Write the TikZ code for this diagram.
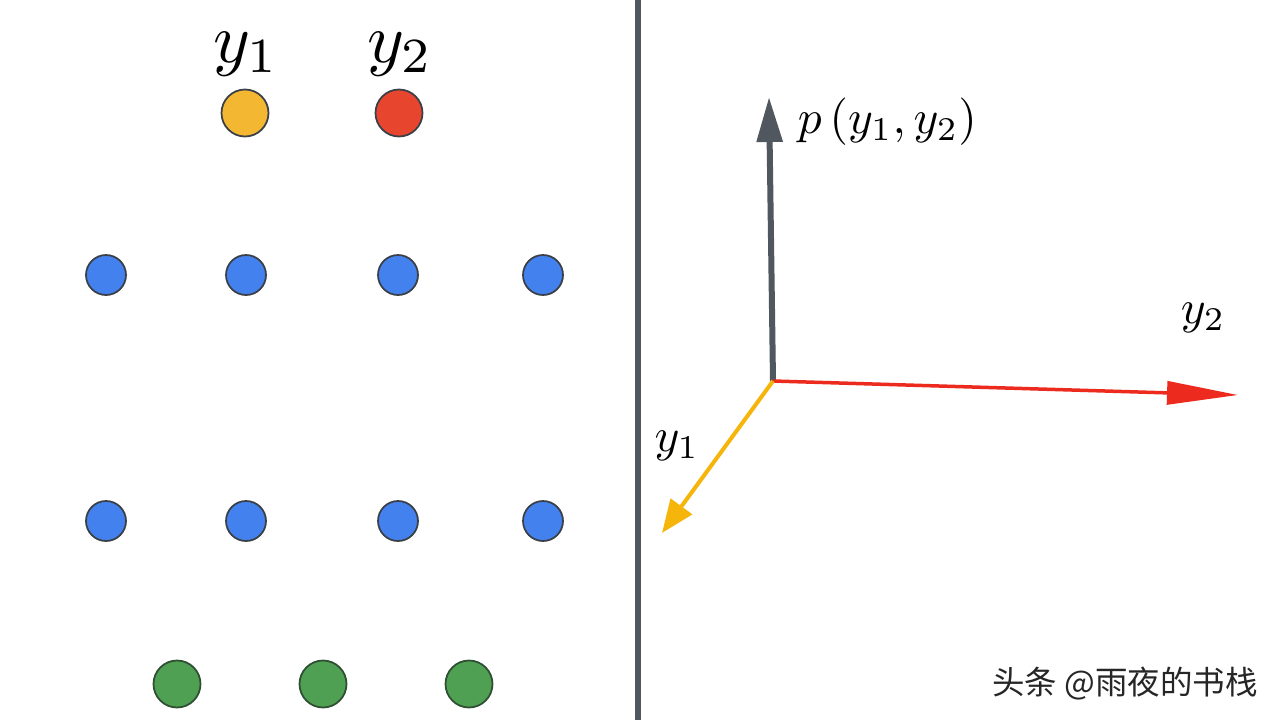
\documentclass[tikz,border=0pt]{standalone}
\usepackage{fontspec}
\newfontfamily\cjk{Noto Sans CJK SC}
\usetikzlibrary{arrows.meta}
\definecolor{dotyellow}{HTML}{F4B731}
\definecolor{dotred}{HTML}{E8452F}
\definecolor{dotblue}{HTML}{4382EE}
\definecolor{dotgreen}{HTML}{4FA052}
\definecolor{rim}{HTML}{3B4048}
\definecolor{greenrim}{HTML}{2F4F33}
\definecolor{axisgray}{HTML}{50575E}
\definecolor{axisred}{HTML}{EC2B1E}
\definecolor{axisyellow}{HTML}{F5B50A}
\begin{document}
\begin{tikzpicture}[x=0.02cm, y=-0.02cm,
  dot/.style={circle, draw=rim, line width=1pt, inner sep=0pt, minimum size=0.8cm},
  big/.style={minimum size=0.94cm},
  lbl/.style={anchor=base, inner sep=0pt}]
  \useasboundingbox[fill=white] (0,0) rectangle (1280,720);
  % left panel
  \node[dot, big, fill=dotyellow] (out1) at (245,113) {};
  \node[dot, big, fill=dotred] (out2) at (399,113) {};
  \node[lbl, scale=4] (l1) at (246,62) {$y_1$};
  \node[lbl, scale=4] (l2) at (400,62) {$y_2$};
  \foreach \x [count=\i] in {106,246,398,543} {
    \node[dot, fill=dotblue] (ha\i) at (\x,275) {};
    \node[dot, fill=dotblue] (hb\i) at (\x,521) {};
  }
  \foreach \x [count=\i] in {177,323,469}
    \node[dot, big, draw=greenrim, fill=dotgreen] (in\i) at (\x,684) {};
  % divider
  \draw[axisgray, line width=0.13cm] (638,0) -- (638,720);
  % right panel
  \coordinate (o) at (773,381);
  \coordinate (pz) at (769,97);
  \coordinate (px) at (1238,395);
  \coordinate (py) at (662,533);
  \draw[axisgray, line width=0.12cm, -{Triangle[length=0.9cm,width=0.5cm]}] (o) -- (pz);
  \draw[axisred, line width=0.07cm, -{Triangle[length=1.42cm,width=0.46cm]}] (o) -- (px);
  \draw[axisyellow, line width=0.08cm, -{Triangle[length=0.66cm,width=0.52cm]}] (o) -- (py);
  \node[lbl, anchor=base west, scale=2.7] (pl) at (797,133) {$p\left(y_1, y_2\right)$};
  \node[lbl, scale=2.7] (xl) at (1203,323) {$y_2$};
  \node[lbl, scale=2.7] (yl) at (677,451) {$y_1$};
  \node[text=black!85] (wm) at (1125,684) {\cjk\fontsize{18.5}{22}\selectfont 头条 @雨夜的书栈};
\end{tikzpicture}
\end{document}
